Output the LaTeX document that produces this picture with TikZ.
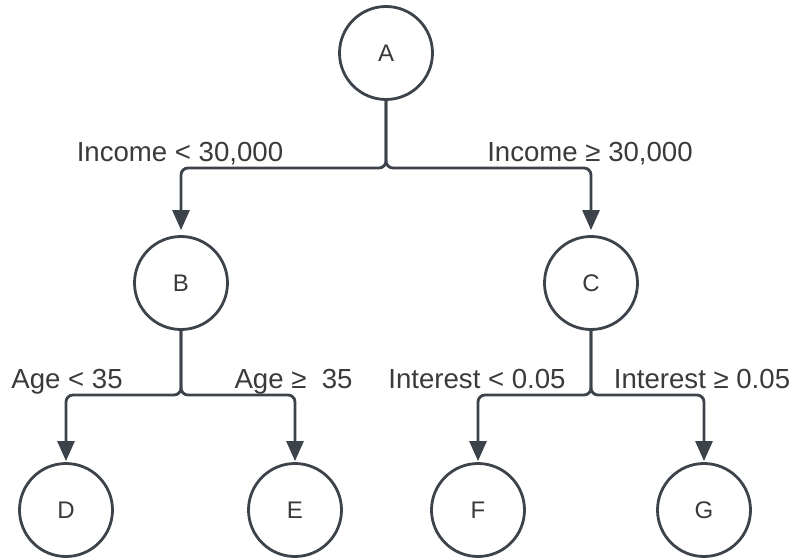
\documentclass[tikz,border=0pt]{standalone}
\usepackage{fontspec}
\setmainfont{Liberation Sans}
\usetikzlibrary{arrows.meta}
\definecolor{ln}{HTML}{3D434B}
\definecolor{tx}{HTML}{3A3A3A}
\begin{document}
\begin{tikzpicture}[x=1bp,y=-1bp,
  tnode/.style={circle,draw=ln,line width=2.8bp,minimum size=93bp,inner sep=0pt,
    text=tx,font=\fontsize{24bp}{26bp}\selectfont},
  conn/.style={draw=ln,line width=2.8bp,rounded corners=7bp,
    -{Triangle[length=20bp,width=17bp]}},
  lbl/.style={anchor=base,text=tx,inner sep=0pt,font=\fontsize{27.6bp}{30bp}\selectfont}]
\useasboundingbox (0,0) rectangle (798,559);
\node[tnode] (A) at (386,53) {A};
\node[tnode] (B) at (181,283) {B};
\node[tnode] (C) at (591,283) {C};
\node[tnode] (D) at (66,510) {D};
\node[tnode] (E) at (295,510) {E};
\node[tnode] (F) at (478,510) {F};
\node[tnode] (G) at (704,510) {G};
\coordinate (a1) at (386,168);
\coordinate (b1) at (181,395);
\coordinate (c1) at (591,395);
\draw[conn,shorten >=5bp] (A.south) -- (a1) -| (B.north);
\draw[conn,shorten >=5bp] (A.south) -- (a1) -| (C.north);
\draw[conn,shorten >=1bp] (B.south) -- (b1) -| (D.north);
\draw[conn,shorten >=1bp] (B.south) -- (b1) -| (E.north);
\draw[conn,shorten >=1bp] (C.south) -- (c1) -| (F.north);
\draw[conn,shorten >=1bp] (C.south) -- (c1) -| (G.north);
\node[lbl] (l1) at (180,162) {Income < 30,000};
\node[lbl] (l2) at (590,162) {Income ≥ 30,000};
\node[lbl] (l3) at (67,388) {Age < 35};
\node[lbl] (l4) at (293.5,388) {Age ≥ \ 35};
\node[lbl] (l5) at (477,388) {Interest < 0.05};
\node[lbl] (l6) at (702,388) {Interest ≥ 0.05};
\end{tikzpicture}
\end{document}
